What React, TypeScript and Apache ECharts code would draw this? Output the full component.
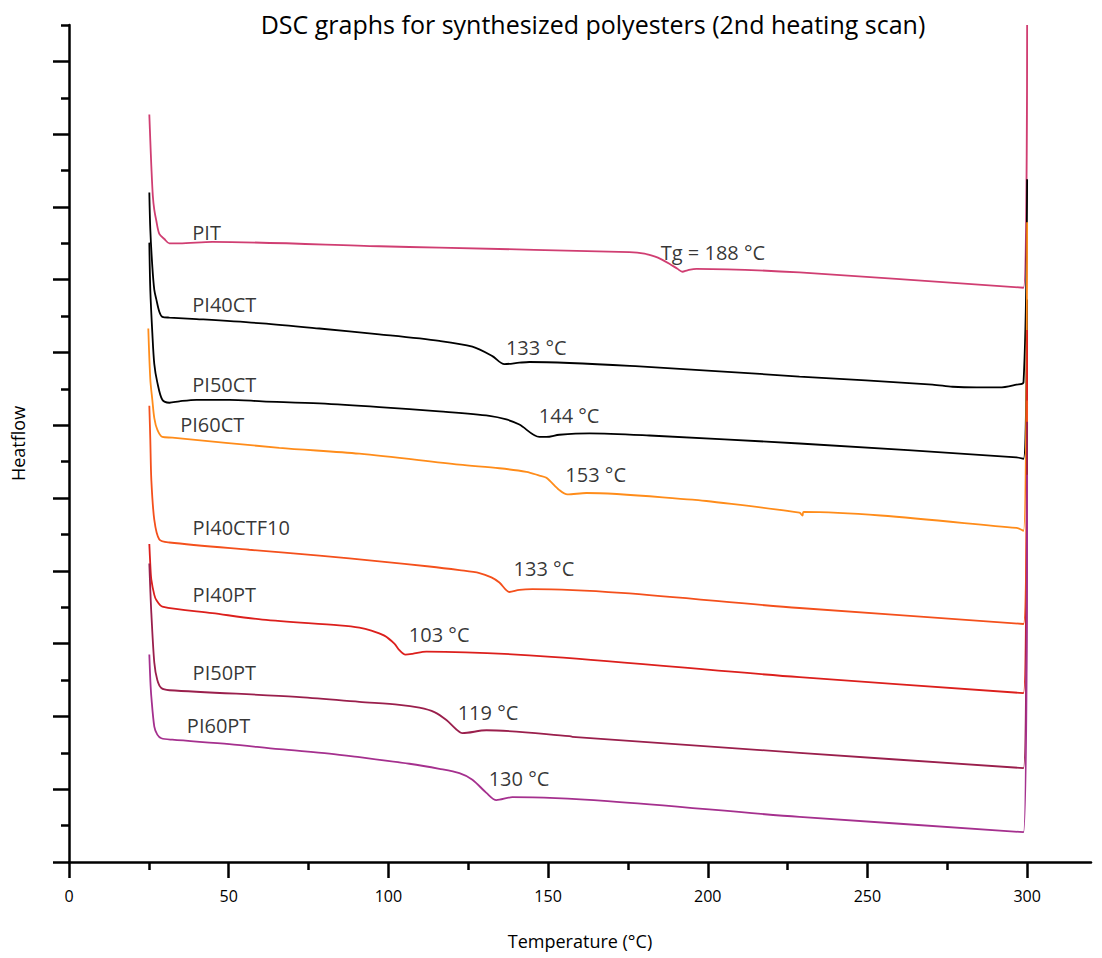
import React, { useEffect, useRef } from "react";
import * as echarts from "echarts";

const TITLE = "DSC graphs for synthesized polyesters (2nd heating scan)";
const X_NAME = "Temperature (°C)";
const Y_NAME = "Heatflow";
const X_MAJOR = [0, 50, 100, 150, 200, 250, 300];
const X_MINOR = [25, 75, 125, 175, 225, 275];
const Y_MAJOR = [0, 1, 2, 3, 4, 5, 6, 7, 8, 9, 10, 11];
const Y_MINOR = [0.5, 1.5, 2.5, 3.5, 4.5, 5.5, 6.5, 7.5, 8.5, 9.5, 10.5, 11.5];

// [temperature °C, heatflow (arb., stacked offset)]
const PIT = [
  [25.15, 10.27], [25.46, 9.91], [25.78, 9.56], [26.25, 9.15], [26.71, 8.96], [27.34, 8.81],
  [28.28, 8.63], [29.85, 8.56], [31.45, 8.5], [34.54, 8.5], [44.88, 8.52], [97.18, 8.46],
  [115.97, 8.44], [175.48, 8.38], [180.18, 8.36], [183.31, 8.32], [185.5, 8.28], [188.0, 8.22],
  [190.51, 8.15], [192.07, 8.11], [193.64, 8.13], [196.46, 8.15], [228.72, 8.1], [298.87, 7.89],
  [300.0, 11.5],
];
const PI40CT = [
  [25.15, 9.2], [25.46, 8.69], [26.09, 8.18], [26.71, 7.86], [27.34, 7.73], [28.28, 7.56],
  [29.22, 7.49], [31.45, 7.48], [39.93, 7.46], [60.54, 7.4], [78.39, 7.33], [97.18, 7.25],
  [115.97, 7.16], [126.31, 7.08], [132.57, 6.95], [136.33, 6.84], [141.02, 6.86], [144.15, 6.87],
  [178.61, 6.81], [228.72, 6.67], [270.37, 6.56], [276.63, 6.53], [284.15, 6.52], [291.35, 6.52],
  [296.67, 6.56], [298.87, 6.59], [300.0, 9.38],
];
const PI50CT = [
  [25.15, 8.51], [25.46, 7.86], [26.09, 7.27], [26.71, 6.84], [27.65, 6.59], [29.22, 6.35],
  [31.45, 6.31], [34.54, 6.33], [39.93, 6.35], [50.2, 6.35], [60.54, 6.33], [78.39, 6.3],
  [97.18, 6.25], [115.97, 6.19], [131.63, 6.13], [136.95, 6.08], [141.02, 6.01], [147.29, 5.84],
  [149.48, 5.84], [153.55, 5.87], [162.95, 5.89], [181.74, 5.86], [228.72, 5.75], [296.67, 5.56],
  [298.87, 5.54], [300.0, 7.73],
];
const PI60CT = [
  [24.83, 7.33], [25.46, 6.63], [26.09, 6.35], [26.71, 6.1], [27.65, 5.94], [29.22, 5.84],
  [32.35, 5.83], [65.86, 5.69], [90.92, 5.61], [122.24, 5.46], [134.76, 5.41], [143.21, 5.36],
  [147.29, 5.31], [149.48, 5.28], [153.55, 5.11], [156.05, 5.05], [162.01, 5.07], [195.21, 4.98],
  [199.59, 4.96], [228.72, 4.8], [229.66, 4.76], [230.0, 4.81], [296.67, 4.59], [298.87, 4.55],
  [300.0, 8.79],
];
const PI40CTF10 = [
  [25.15, 6.27], [25.46, 5.8], [25.78, 5.25], [26.71, 4.7], [28.28, 4.43], [31.45, 4.39],
  [56.47, 4.29], [78.39, 4.21], [97.18, 4.13], [112.85, 4.06], [122.24, 4.01], [128.5, 3.97],
  [132.26, 3.91], [134.76, 3.84], [137.89, 3.71], [141.02, 3.74], [145.09, 3.75], [228.72, 3.49],
  [298.87, 3.27], [300.0, 6.34],
];
const PI40PT = [
  [25.15, 4.37], [25.46, 4.08], [25.78, 3.88], [26.71, 3.67], [27.34, 3.6], [29.22, 3.51],
  [44.88, 3.42], [60.54, 3.33], [84.65, 3.25], [90.92, 3.22], [94.68, 3.18], [98.75, 3.11],
  [101.88, 3.0], [103.45, 2.91], [105.33, 2.85], [107.52, 2.86], [111.9, 2.89], [228.72, 2.54],
  [298.87, 2.32], [300.0, 7.31],
];
const PI50PT = [
  [25.15, 4.1], [25.46, 3.74], [25.78, 3.42], [26.71, 2.74], [27.65, 2.5], [28.91, 2.39],
  [31.45, 2.36], [71.19, 2.27], [90.92, 2.2], [103.45, 2.16], [109.71, 2.12], [114.41, 2.06],
  [118.17, 1.95], [121.3, 1.82], [123.18, 1.77], [130.69, 1.81], [156.68, 1.73], [157.62, 1.72],
  [228.72, 1.5], [298.87, 1.29], [300.0, 6.05],
];
const PI60PT = [
  [25.15, 2.85], [25.46, 2.5], [25.78, 2.27], [26.71, 1.86], [27.65, 1.75], [28.91, 1.7],
  [32.35, 1.68], [50.2, 1.62], [65.86, 1.55], [81.52, 1.49], [90.92, 1.44], [106.58, 1.35],
  [115.97, 1.28], [122.24, 1.22], [126.31, 1.13], [130.69, 0.95], [133.82, 0.85], [138.83, 0.89],
  [228.72, 0.62], [298.87, 0.41], [300.0, 5.32],
];

// drawing order (later on top)
const SERIES_NAMES = ["PIT", "PI40CT", "PI50CT", "PI60CT", "PI40PT", "PI40CTF10", "PI50PT", "PI60PT"];
const SERIES_DATA = [PIT, PI40CT, PI50CT, PI60CT, PI40PT, PI40CTF10, PI50PT, PI60PT];
const SERIES_COLORS = ["#D03E72", "#000000", "#000000", "#FF8C1A", "#DC1F1C", "#F4501C", "#9A1F4C", "#A5308E"];

const LABEL_TEXT = [
  "PIT", "PI40CT", "PI50CT", "PI60CT", "PI40CTF10", "PI40PT", "PI50PT", "PI60PT",
  "Tg = 188 °C", "133 °C", "144 °C", "153 °C", "133 °C", "103 °C", "119 °C", "130 °C",
];
const LABEL_X = [38.6, 38.6, 38.6, 34.8, 38.7, 38.7, 38.7, 36.9, 185.3, 136.8, 147.1, 155.4, 139.2, 106.4, 121.7, 131.4];
const LABEL_Y = [8.65, 7.66, 6.56, 6.01, 4.59, 3.67, 2.6, 1.87, 8.37, 7.07, 6.13, 5.32, 4.03, 3.13, 2.05, 1.15];

const FONT = "'Open Sans', 'Noto Sans', sans-serif";

export default function App() {
  const ref = useRef<HTMLDivElement>(null);
  useEffect(() => {
    if (!ref.current) return;
    const chart = echarts.init(ref.current, undefined, { renderer: "svg" });
    const axisLine = { show: true, onZero: false, lineStyle: { color: "#000", width: 2.5 } };
    const lineSeries = SERIES_NAMES.map((name, i) => ({
      name,
      type: "line",
      xAxisIndex: 0,
      yAxisIndex: 0,
      data: SERIES_DATA[i],
      showSymbol: false,
      symbol: "none",
      smooth: 0.3,
      lineStyle: { color: SERIES_COLORS[i], width: 1.8 },
      itemStyle: { color: SERIES_COLORS[i] },
    }));
    const labelSeries = {
      type: "scatter",
      xAxisIndex: 0,
      yAxisIndex: 0,
      symbolSize: 0,
      silent: true,
      z: 5,
      data: LABEL_TEXT.map((t, i) => [LABEL_X[i], LABEL_Y[i], t]),
      label: {
        show: true,
        position: "right",
        distance: 0,
        formatter: (p: any) => p.value[2],
        fontSize: 20,
        color: "#000",
        fontFamily: FONT,
      },
    };
    chart.setOption({
      animation: false,
      backgroundColor: "#fff",
      textStyle: { fontFamily: FONT },
      title: {
        text: TITLE,
        left: 588,
        top: 6,
        textAlign: "center",
        textStyle: { fontSize: 25, fontWeight: "normal", color: "#000", fontFamily: FONT },
      },
      grid: { left: 69, right: 11, top: 25, bottom: 96, containLabel: false },
      xAxis: [
        {
          type: "value",
          min: 0,
          max: 320,
          position: "bottom",
          axisLine,
          axisTick: { show: true, inside: false, length: 16, customValues: X_MAJOR, lineStyle: { color: "#000", width: 2.5 } },
          axisLabel: { show: true, customValues: X_MAJOR, fontSize: 16, color: "#000", margin: 26, fontFamily: FONT },
          splitLine: { show: false },
          name: X_NAME,
          nameLocation: "middle",
          nameGap: 70,
          nameTextStyle: { fontSize: 18, color: "#000", fontFamily: FONT },
        },
        {
          type: "value",
          min: 0,
          max: 320,
          position: "bottom",
          axisLine: { show: false },
          axisTick: { show: true, inside: false, length: 8, customValues: X_MINOR, lineStyle: { color: "#000", width: 2.5 } },
          axisLabel: { show: false },
          splitLine: { show: false },
        },
      ],
      yAxis: [
        {
          type: "value",
          min: 0,
          max: 11.5,
          position: "left",
          axisLine,
          axisTick: { show: true, inside: false, length: 16, customValues: Y_MAJOR, lineStyle: { color: "#000", width: 2.5 } },
          axisLabel: { show: false },
          splitLine: { show: false },
          name: Y_NAME,
          nameLocation: "middle",
          nameGap: 42,
          nameRotate: 90,
          nameTextStyle: { fontSize: 18, color: "#000", fontFamily: FONT },
        },
        {
          type: "value",
          min: 0,
          max: 11.5,
          position: "left",
          axisLine: { show: false },
          axisTick: { show: true, inside: false, length: 8, customValues: Y_MINOR, lineStyle: { color: "#000", width: 2.5 } },
          axisLabel: { show: false },
          splitLine: { show: false },
        },
      ],
      series: [...lineSeries, labelSeries],
    });
    return () => chart.dispose();
  }, []);
  return <div ref={ref} style={{ position: "fixed", left: 0, top: 0, width: 1102, height: 958 }} />;
}
